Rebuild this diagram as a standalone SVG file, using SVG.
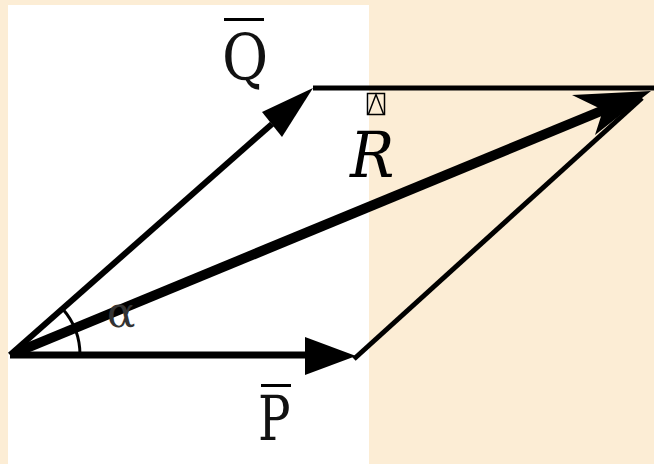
<svg xmlns="http://www.w3.org/2000/svg" width="654" height="464" viewBox="0 0 654 464">
<style>
text{font-family:"DejaVu Serif",serif;}
.ln{stroke:#000;fill:none;}
.head{fill:#000;stroke:none;}
</style>
<rect x="0" y="0" width="654" height="464" fill="#fcedd5"/>
<rect x="8" y="5" width="361" height="459" fill="#ffffff"/>
<g id="connectors">
  <line class="ln" x1="10" y1="355" x2="312" y2="355" stroke-width="7"/>
  <polygon class="head" points="305,337 356,356 305,375"/>
  <line class="ln" x1="10" y1="355" x2="272" y2="124" stroke-width="6"/>
  <polygon class="head" points="313,88 262,112 282,137"/>
  <line class="ln" x1="313" y1="88" x2="654" y2="88" stroke-width="5"/>
  <line class="ln" x1="354" y1="359" x2="642" y2="98" stroke-width="5"/>
  <line class="ln" x1="16" y1="352.5" x2="606" y2="109" stroke-width="10"/>
  <polygon class="head" points="651,91 572,95 603,110 595,135"/>
  <path class="ln" d="M62.5,308.7 A70,70 0 0 1 80,355" stroke-width="3"/>
</g>
<g id="label-Q">
  <line class="ln" x1="224" y1="19.5" x2="264" y2="19.5" stroke-width="3"/>
  <text font-size="64" fill="#111" transform="translate(222,80) scale(0.88,1)">Q</text>
</g>
<g id="label-P">
  <line class="ln" x1="261" y1="385.5" x2="291" y2="385.5" stroke-width="3"/>
  <text font-size="62" fill="#111" transform="translate(258,440) scale(0.78,1)">P</text>
</g>
<g id="label-R">
  <rect x="367.5" y="93.5" width="17" height="21" fill="none" stroke="#000" stroke-width="1.5"/>
  <polyline points="368.5,114 376,94.5 383.5,114" fill="none" stroke="#000" stroke-width="1.5"/>
  <text font-size="64" font-style="italic" fill="#000" transform="translate(350,177) scale(0.92,1)">R</text>
</g>
<g id="label-alpha">
  <text font-size="42" fill="#333" x="107" y="327">α</text>
</g>
</svg>
